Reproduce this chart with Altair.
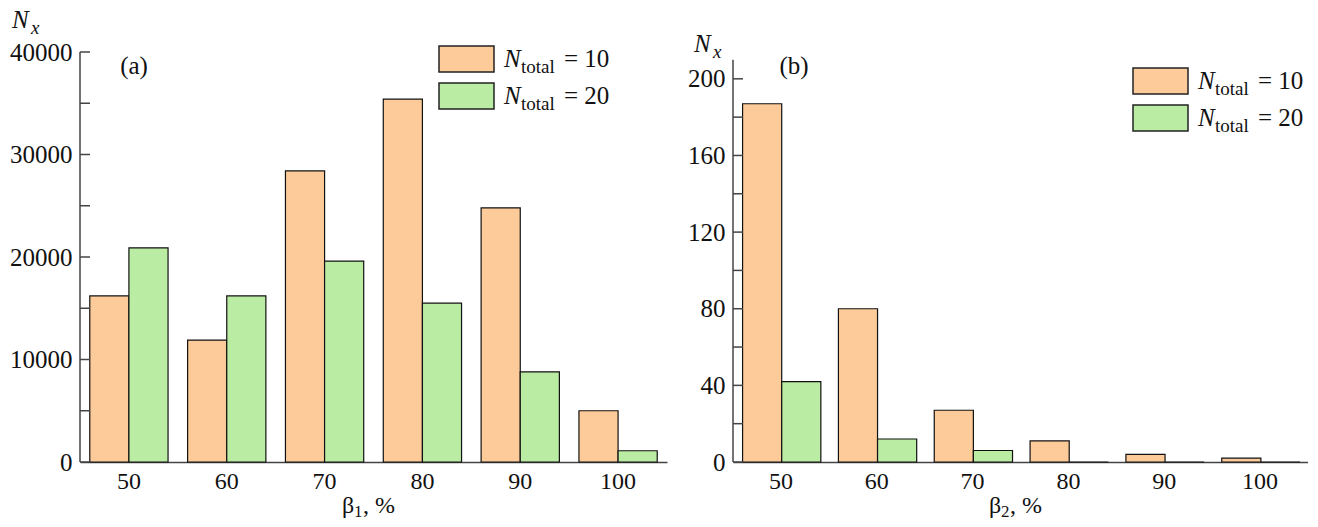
import altair as alt
import pandas as pd

# ---- data ----
beta = [50, 60, 70, 80, 90, 100]
series_names = ["N10", "N20"]
legend_numbers = ["10", "20"]
colors = ["#FDCB99", "#BBECA3"]

a_n10 = [16200, 11900, 28400, 35400, 24800, 5000]
a_n20 = [20900, 16200, 19600, 15500, 8800, 1100]
a_major = [0, 10000, 20000, 30000, 40000]
a_minor = [0, 5000, 10000, 15000, 20000, 25000, 30000, 35000, 40000]

b_n10 = [187, 80, 27, 11, 4, 2]
b_n20 = [42, 12, 6, 0, 0, 0]
b_major = [0, 40, 80, 120, 160, 200]
b_minor = [0, 20, 40, 60, 80, 100, 120, 140, 160, 180, 200]

FONT = "Times New Roman, Liberation Serif, DejaVu Serif, serif"
H = 410
INK = "#111111"
AXIS = "#444444"


def text_layer(s, x, y, size, italic=False, align="left"):
    return alt.Chart(pd.DataFrame({"t": [s]})).mark_text(
        font=FONT, fontSize=size, fontStyle="italic" if italic else "normal",
        align=align, baseline="alphabetic", color=INK
    ).encode(x=alt.value(x), y=alt.value(y), text="t:N")


def panel(n10, n20, ydom, axis_top, major, minor, sub, tag, width,
          leg_x, leg_y, nx_xy, tag_xy, title_x):
    df = pd.DataFrame({
        "beta": beta * 2,
        "series": [series_names[0]] * len(beta) + [series_names[1]] * len(beta),
        "value": list(n10) + list(n20),
    })
    yscale = alt.Scale(domain=ydom, nice=False, zero=True)
    yaxis = alt.Axis(values=major, ticks=False, tickSize=0, labelPadding=8,
                     labelFontSize=25, labelColor=INK, labelFont=FONT, domain=False,
                     title=None, format="d", grid=False)
    bars = alt.Chart(df).mark_bar(stroke=INK, strokeWidth=1.2).encode(
        x=alt.X("beta:O", scale=alt.Scale(paddingInner=0.2, paddingOuter=0.1),
                axis=alt.Axis(labelAngle=0, ticks=False, tickSize=0, labelPadding=7,
                              labelFontSize=24, labelColor=INK, labelFont=FONT,
                              domainColor=AXIS, domainWidth=1.5, title=None)),
        xOffset=alt.XOffset("series:N", sort=series_names,
                            scale=alt.Scale(paddingInner=0, paddingOuter=0)),
        y=alt.Y("value:Q", scale=yscale, axis=yaxis),
        color=alt.Color("series:N", scale=alt.Scale(domain=series_names, range=colors),
                        legend=None),
    )
    ticks = alt.Chart(pd.DataFrame({"value": minor})).mark_rule(
        color=AXIS, strokeWidth=1.5).encode(
        y=alt.Y("value:Q", scale=yscale, axis=yaxis), x=alt.value(0), x2=alt.value(10))
    yline = alt.Chart(pd.DataFrame({"value": [0], "value2": [axis_top]})).mark_rule(
        color=AXIS, strokeWidth=1.5).encode(
        y=alt.Y("value:Q", scale=yscale, axis=yaxis), y2="value2:Q", x=alt.value(0))

    layers = [bars, ticks, yline]
    # legend
    for i, (c, num) in enumerate(zip(colors, legend_numbers)):
        y0 = leg_y + i * 37
        layers.append(
            alt.Chart(pd.DataFrame({"s": [series_names[i]]})).mark_rect(
                stroke="#222222", strokeWidth=1.5, fill=c).encode(
                x=alt.value(leg_x), x2=alt.value(leg_x + 55),
                y=alt.value(y0), y2=alt.value(y0 + 26)))
        tx = leg_x + 65
        by = y0 + 21
        layers.append(text_layer("N", tx, by, 25, italic=True))
        layers.append(text_layer("total", tx + 17, by + 6, 19))
        layers.append(text_layer("= " + num, tx + 60, by, 25))
    # y axis title N_x
    layers.append(text_layer("N", nx_xy[0], nx_xy[1], 25, italic=True))
    layers.append(text_layer("x", nx_xy[0] + 19, nx_xy[1] + 6, 19, italic=True))
    # x axis title beta_i, %
    layers.append(text_layer("β", title_x, H + 51, 24))
    layers.append(text_layer(sub, title_x + 12, H + 55, 17))
    layers.append(text_layer(", %", title_x + 21, H + 51, 24))
    # panel tag
    layers.append(text_layer(tag, tag_xy[0], tag_xy[1], 25, align="center"))

    return alt.layer(*layers).properties(width=width, height=H)


left = panel(a_n10, a_n20, [0, 40000], 40000, a_major, a_minor, "1", "(a)", 587,
             leg_x=359, leg_y=-6, nx_xy=(-68, -24), tag_xy=(54, 22), title_x=262)
right = panel(b_n10, b_n20, [0, 214], 210, b_major, b_minor, "2", "(b)", 575,
              leg_x=400, leg_y=16, nx_xy=(-39, 0), tag_xy=(61, 22), title_x=256)

chart = alt.hconcat(left, right, spacing=20).configure_view(stroke=None).configure_axis(
    labelFont=FONT, titleFont=FONT, grid=False
).configure_text(font=FONT).properties(
    padding={"top": 0, "left": 1, "right": 0, "bottom": 0}, background="white")

chart.save("out.html", embed_options={"renderer": "svg", "actions": False})
